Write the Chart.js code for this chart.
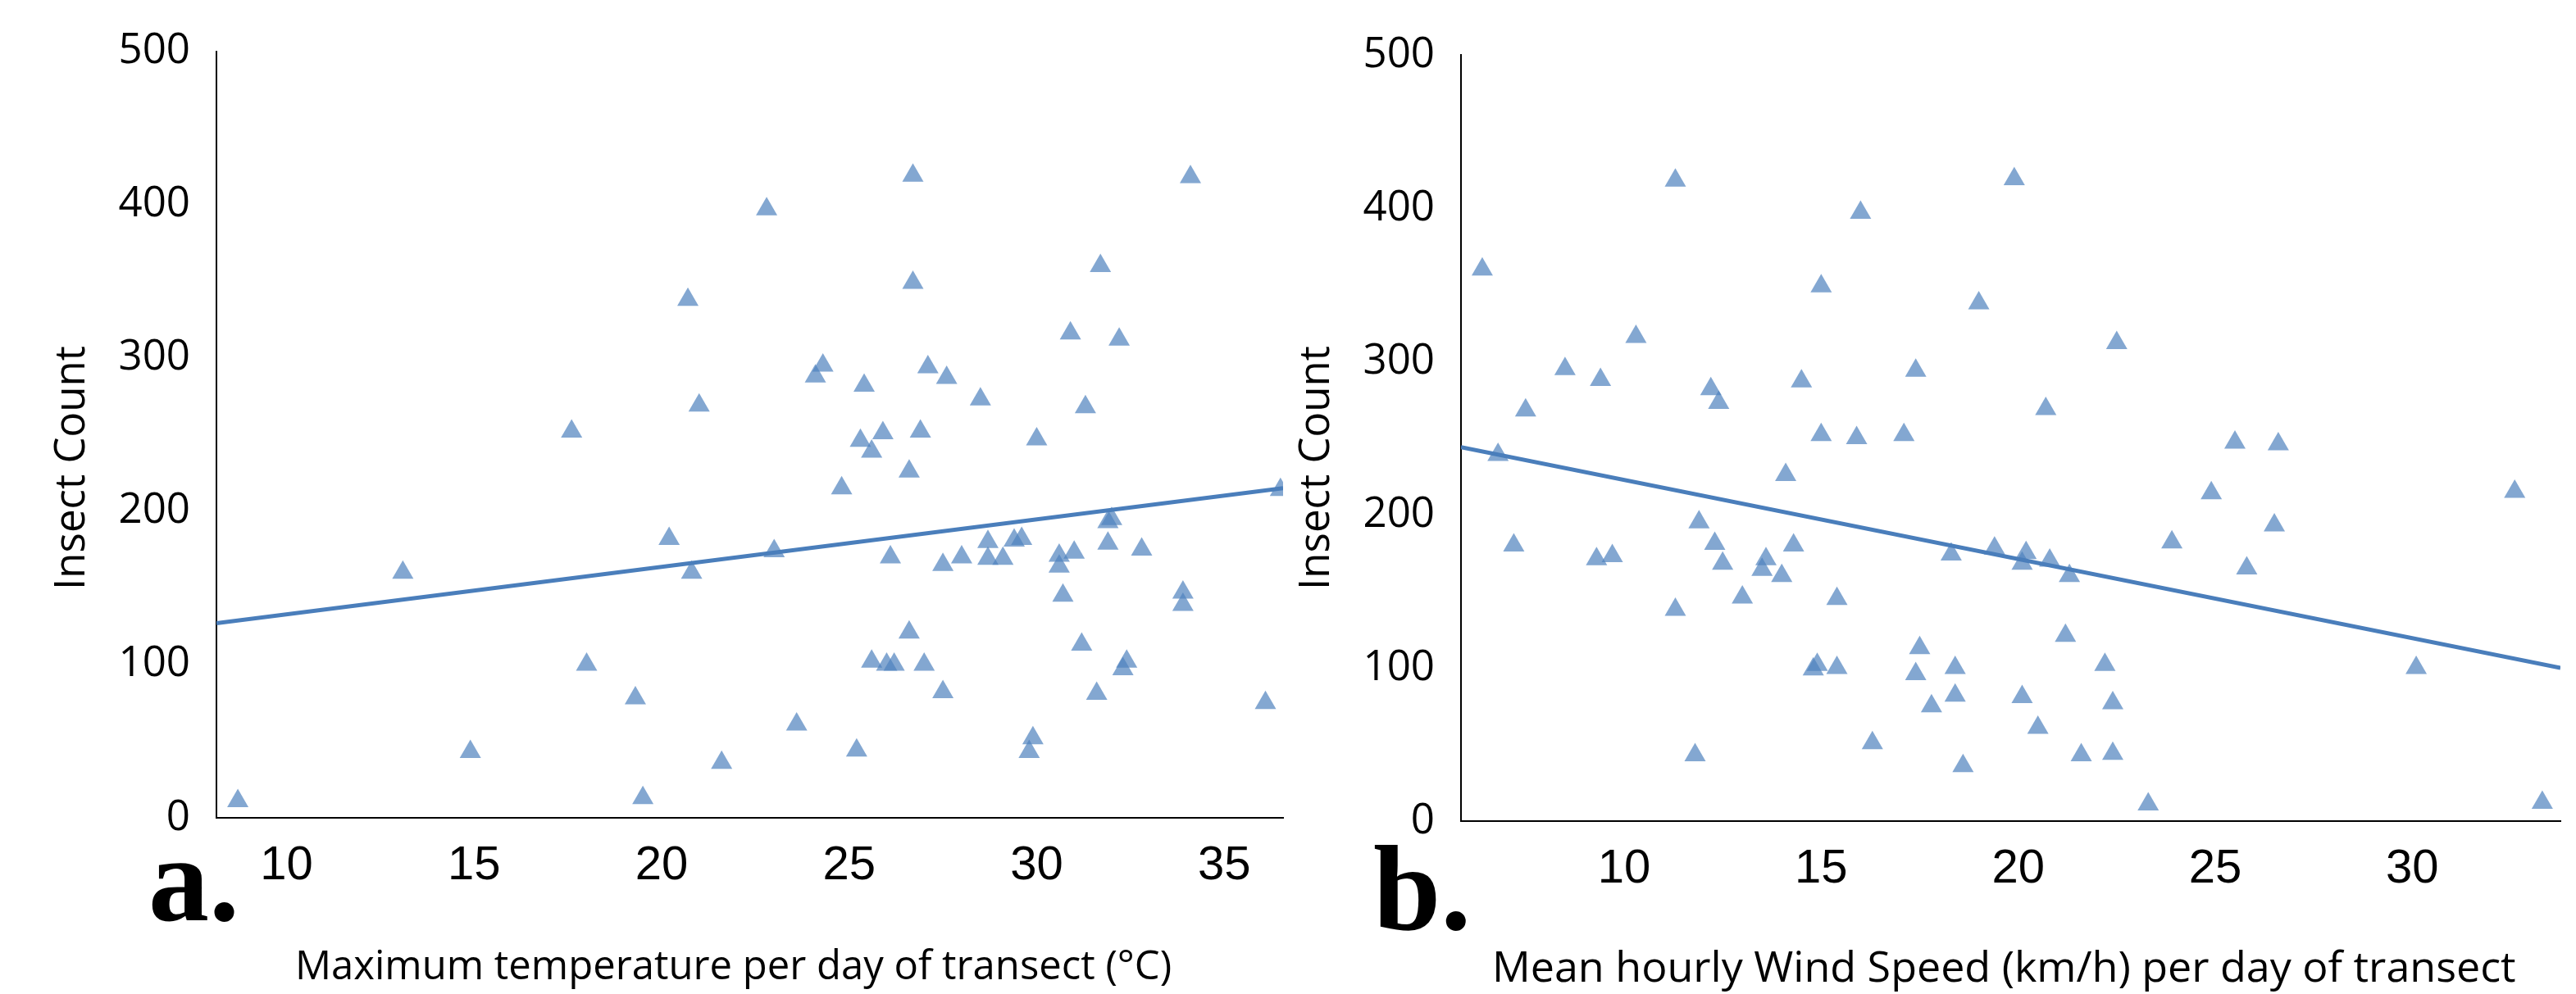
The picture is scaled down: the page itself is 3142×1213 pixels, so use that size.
<!DOCTYPE html>
<html>
<head>
<meta charset="utf-8">
<title>Insect count vs temperature and wind speed</title>
<script src="https://cdn.jsdelivr.net/npm/chart.js@4.4.1/dist/chart.umd.min.js"></script>
<style>
    html, body { margin: 0; padding: 0; background: #fff; }
    #wrap { position: relative; width: 3142px; height: 1213px; overflow: hidden; }
    canvas { position: absolute; top: 0; }
    #chartA { left: 0; }
    #chartB { left: 1580px; }
</style>
</head>
<body>
<div id="wrap">
    <canvas id="chartA" width="1580" height="1213"></canvas>
    <canvas id="chartB" width="1562" height="1213"></canvas>
</div>
<script>
// --- panel a: maximum temperature (°C) vs insect count ---
const tempX = [8.7, 13.1, 14.9, 17.6, 18.0, 19.3, 19.5, 20.2, 20.7, 20.8, 21.0, 21.6, 22.8, 23.0, 23.6, 24.1, 24.3,
    24.8, 25.2, 25.3, 25.4, 25.6, 25.6, 25.9, 26.0, 26.1, 26.2, 26.6, 26.6, 26.7, 26.7, 26.9, 27.0, 27.1, 27.5, 27.5,
    27.6, 28.0, 28.5, 28.7, 28.7, 29.1, 29.4, 29.6, 29.8, 29.9, 30.0, 30.6, 30.6, 30.7, 30.9, 31.0, 31.2, 31.3, 31.6,
    31.7, 31.9, 32.0, 31.9, 32.2, 32.3, 32.4, 32.8, 33.9, 33.9, 34.1, 36.1, 36.5];
const tempCount = [11, 160, 43, 252, 100, 78, 13, 182, 338, 160, 269, 36, 397, 174, 61, 288, 295,
    215, 44, 246, 282, 239, 102, 251, 100, 170, 100, 226, 121, 419, 349, 252, 100, 294, 165, 82,
    287, 170, 273, 180, 169, 169, 181, 182, 43, 52, 247, 171, 164, 145, 316, 173, 113, 268, 81,
    360, 193, 195, 179, 312, 97, 102, 175, 147, 139, 418, 75, 214];
const tempTrendX = [8.13, 36.57];
const tempTrendY = [127, 215];

// --- panel b: mean hourly wind speed (km/h) vs insect count ---
const windX = [11.3, 16.0, 6.4, 15.0, 19.0, 10.3, 8.5, 9.4, 17.4, 14.5, 12.2, 12.4, 7.5, 15.0, 15.9, 17.1, 6.8,
    14.1, 11.9, 19.4, 18.3, 7.2, 12.3, 14.3, 9.3, 9.7, 12.5, 13.6, 13.5, 14.0, 13.0, 11.3, 15.4, 17.5, 14.9, 14.8,
    15.4, 17.4, 18.4, 18.4, 17.8, 16.3, 11.8, 18.6, 19.9, 22.5, 20.7, 25.5, 26.6, 24.9, 32.6, 26.5, 23.9, 20.2,
    20.1, 20.8, 21.3, 25.8, 21.2, 22.2, 30.1, 20.1, 22.4, 20.5, 21.6, 22.4, 23.3, 33.3];
const windCount = [418, 397, 360, 349, 338, 316, 295, 288, 294, 287, 282, 273, 268, 252, 250, 252, 239,
    226, 195, 178, 174, 180, 181, 180, 171, 173, 168, 171, 164, 160, 146, 138, 145, 113, 102, 99,
    100, 96, 100, 82, 75, 51, 43, 36, 419, 312, 269, 247, 246, 214, 215, 193, 182, 175,
    168, 170, 160, 165, 121, 102, 100, 81, 77, 61, 43, 44, 11, 12];
const windTrendX = [5.86, 33.76];
const windTrendY = [244, 100];

// tick labels
const tempTicks = [10, 15, 20, 25, 30, 35];
const windTicks = [10, 15, 20, 25, 30];
const countTicks = [0, 100, 200, 300, 400, 500];

const countTitle = 'Insect Count';
const tempTitle = 'Maximum temperature per day of transect (°C)';
const windTitle = 'Mean hourly Wind Speed (km/h) per day of transect';

const MARKER = 'rgba(79, 129, 189, 0.7)';
const TREND = '#4A7EBB';

// axis titles and the panel letter, drawn at fixed spots on the canvas
const panelText = {
    id: 'panelText',
    afterDraw(chart, args, opts) {
        const ctx = chart.ctx;
        ctx.save();
        ctx.fillStyle = '#000';
        ctx.textBaseline = 'alphabetic';

        // rotated y title
        ctx.font = '51px "Open Sans"';
        ctx.save();
        ctx.translate(opts.yTitleX, opts.yTitleY);
        ctx.rotate(-Math.PI / 2);
        ctx.textAlign = 'center';
        ctx.fillText(countTitle, 0, 0);
        ctx.restore();

        // x title
        ctx.font = opts.xTitleSize + 'px "Open Sans"';
        ctx.textAlign = 'left';
        ctx.fillText(opts.xTitle, opts.xTitleX, opts.xTitleY);

        // panel letter
        ctx.font = 'bold 148px "Liberation Serif"';
        ctx.fillText(opts.letter, opts.letterX, opts.letterY);
        ctx.restore();
    }
};

function toPoints(xs, ys) {
    return xs.map((x, i) => ({ x: x, y: ys[i] }));
}

function makeChart(canvasId, cfg) {
    const ctx = document.getElementById(canvasId).getContext('2d');
    return new Chart(ctx, {
        type: 'scatter',
        data: {
            datasets: [
                {
                    // trendline goes on top of the markers
                    data: toPoints(cfg.trendX, cfg.trendY),
                    showLine: true,
                    borderColor: TREND,
                    borderWidth: 5,
                    pointRadius: 0,
                    pointHoverRadius: 0,
                    fill: false,
                    order: 0
                },
                {
                    data: toPoints(cfg.xs, cfg.ys),
                    pointStyle: 'triangle',
                    pointRadius: 15,
                    pointHoverRadius: 15,
                    backgroundColor: MARKER,
                    borderWidth: 0,
                    clip: 0,
                    order: 1
                }
            ]
        },
        options: {
            responsive: false,
            animation: false,
            events: [],
            layout: { padding: cfg.padding },
            plugins: {
                legend: { display: false },
                tooltip: { enabled: false },
                panelText: cfg.text
            },
            scales: {
                x: {
                    type: 'linear',
                    min: cfg.xMin,
                    max: cfg.xMax,
                    afterBuildTicks: (scale) => { scale.ticks = cfg.xTicks.map(v => ({ value: v })); },
                    afterFit: (scale) => { scale.height = cfg.xHeight; },
                    grid: { display: false, drawTicks: false },
                    border: { display: true, color: '#000', width: 2 },
                    ticks: {
                        padding: 24,
                        color: '#000',
                        maxRotation: 0,
                        font: { family: '"Liberation Sans", Arial', size: 58 }
                    }
                },
                y: {
                    type: 'linear',
                    min: 0,
                    max: 500,
                    afterBuildTicks: (scale) => { scale.ticks = countTicks.map(v => ({ value: v })); },
                    afterFit: (scale) => { scale.width = cfg.yWidth; },
                    grid: { display: false, drawTicks: false },
                    border: { display: true, color: '#000', width: 2 },
                    ticks: {
                        padding: 32,
                        color: '#000',
                        font: { family: '"Open Sans"', size: 51 }
                    }
                }
            }
        },
        plugins: [panelText]
    });
}

makeChart('chartA', {
    xs: tempX, ys: tempCount,
    trendX: tempTrendX, trendY: tempTrendY,
    xMin: 8.13, xMax: 36.57, xTicks: tempTicks,
    padding: { left: 0, top: 60, right: 10, bottom: 0 },
    yWidth: 264, xHeight: 215,
    text: { yTitleX: 103, yTitleY: 571, xTitle: tempTitle, xTitleSize: 49, xTitleX: 360, xTitleY: 1195,
            letter: 'a.', letterX: 181, letterY: 1123 }
});

makeChart('chartB', {
    xs: windX, ys: windCount,
    trendX: windTrendX, trendY: windTrendY,
    xMin: 5.86, xMax: 33.76, xTicks: windTicks,
    padding: { left: 0, top: 67, right: 19, bottom: 0 },
    yWidth: 202, xHeight: 211,
    text: { yTitleX: 41, yTitleY: 571, xTitle: windTitle, xTitleSize: 52, xTitleX: 240, xTitleY: 1198,
            letter: 'b.', letterX: 95, letterY: 1134 }
});
</script>
</body>
</html>
